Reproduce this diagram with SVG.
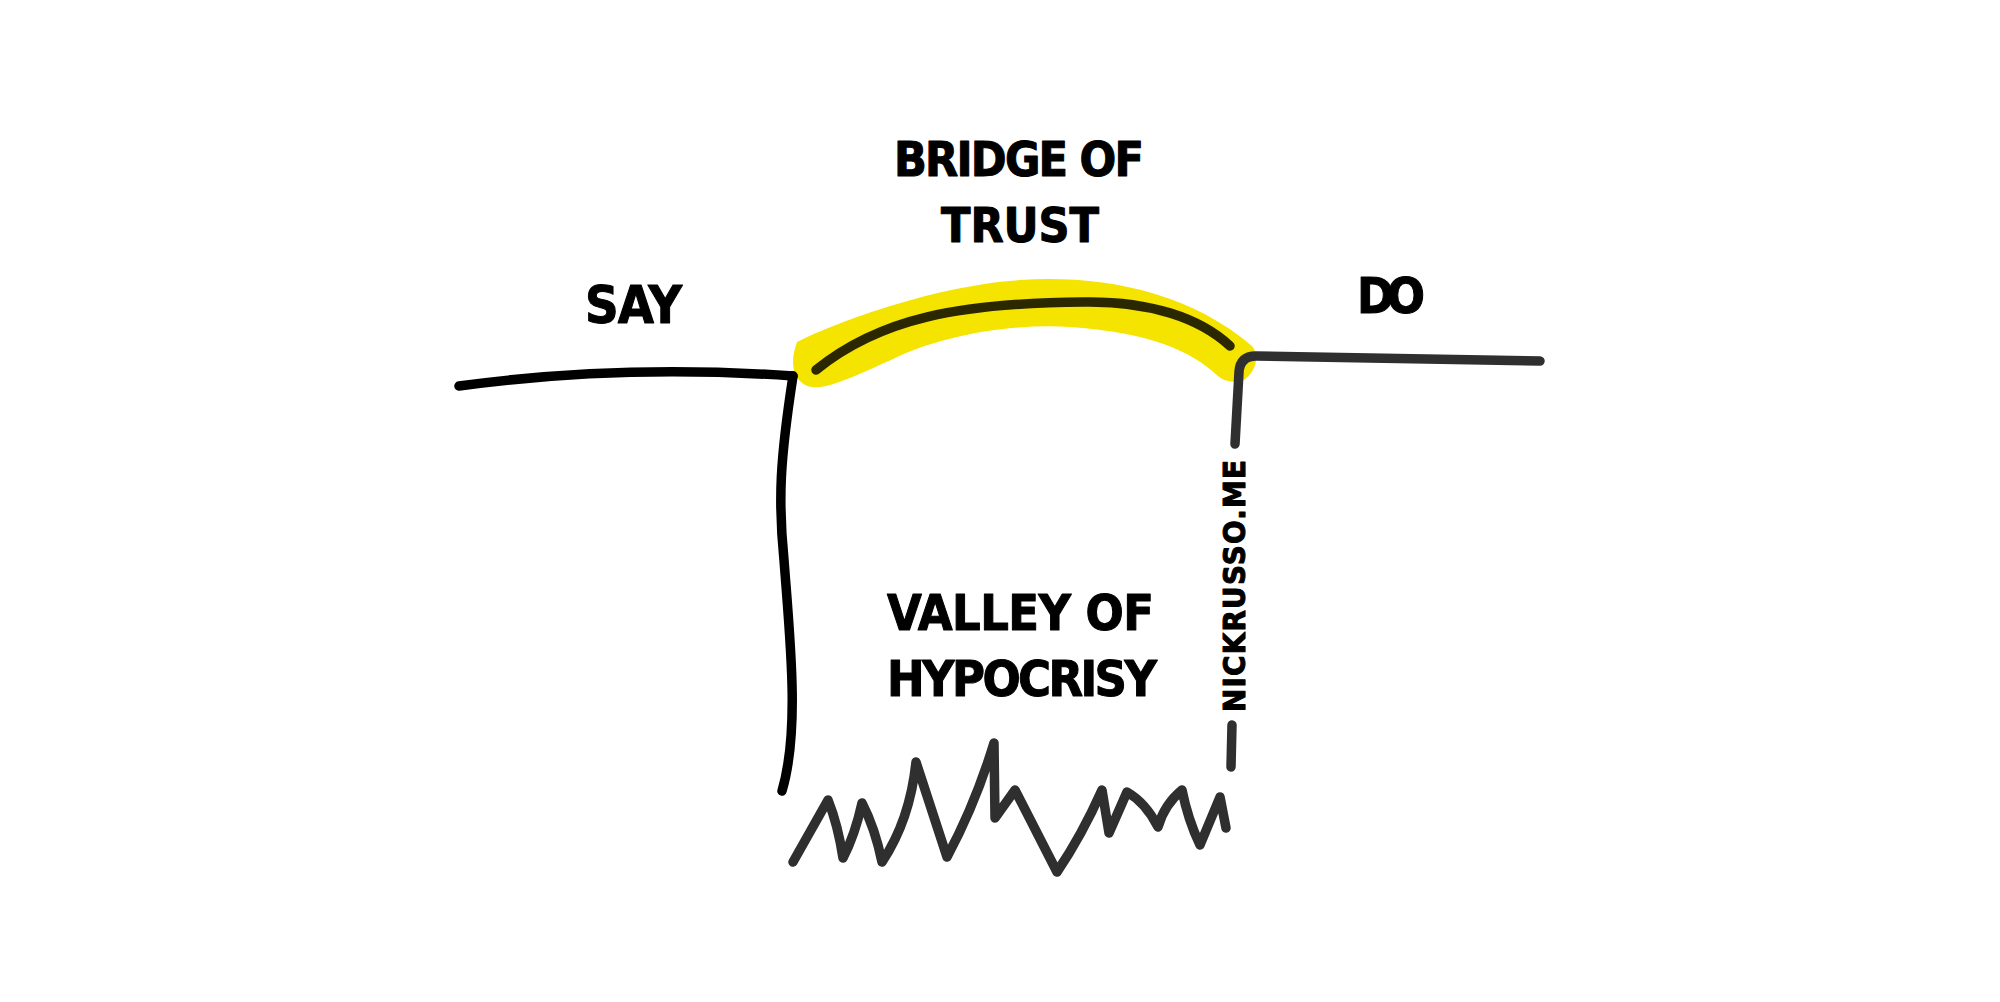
<svg xmlns="http://www.w3.org/2000/svg" width="2000" height="1002" viewBox="0 0 2000 1002">
<style>
.ln{fill:none;stroke-linecap:round;stroke-linejoin:round;stroke-width:9.5}
.blk{stroke:#000}
.gry{stroke:#2f2f2f}
.lbl{font-family:"DejaVu Sans Condensed","DejaVu Sans",sans-serif;font-weight:bold;fill:#000;stroke:#000;stroke-width:1;stroke-linejoin:round}
</style>
<rect width="2000" height="1002" fill="#fff"/>
<g id="bridge-highlight">
<path d="M797,342 C830,325 930,286 1020,280 C1100,275 1186,290 1252,346 C1260,355 1256,372 1244,380 C1232,384 1222,380 1218,376 C1190,350 1150,333 1071,327 C1010,323 940,336 893,359 C860,374 830,388 816,387 C800,388 786,372 797,342 Z" fill="#f5e400"/>
</g>
<g id="connectors">
<path class="ln blk" d="M459,386 Q620,364 793,376"/>
<path class="ln blk" d="M793,376 C780,460 778,500 784,560 C790,640 800,730 782,791"/>
<path class="ln" stroke="#2b2800" stroke-width="10" d="M816,370 C880,318 960,303 1084,302 C1150,301 1200,318 1230,346"/>
<path class="ln gry" d="M1235,444 L1239,372 Q1240,356 1256,356 L1540,361"/>
<path class="ln gry" d="M1232,725 L1231,767"/>
<path class="ln gry" d="M793,862 L828,800 Q838,825 843,858 Q855,835 862,803 Q875,828 882,862 Q910,820 916,762 L947,857 Q975,805 994,743 L995,818 L1015,790 L1057,872 Q1082,835 1102,790 L1109,833 L1127,792 Q1146,803 1158,827 Q1164,805 1182,790 Q1188,820 1200,845 L1220,797 L1226,828"/>
</g>
<g id="say"><text class="lbl" x="585" y="323" font-size="52" textLength="97" lengthAdjust="spacing">SAY</text></g>
<g id="do"><text class="lbl" x="1357" y="313" font-size="50" textLength="68" lengthAdjust="spacing">DO</text></g>
<g id="bridge-of-trust">
<text class="lbl" x="894" y="176" font-size="48" textLength="250" lengthAdjust="spacing">BRIDGE OF</text>
<text class="lbl" x="941" y="242" font-size="48" textLength="158" lengthAdjust="spacing">TRUST</text>
</g>
<g id="valley-of-hypocrisy">
<text class="lbl" x="887" y="630" font-size="50" textLength="267" lengthAdjust="spacing">VALLEY OF</text>
<text class="lbl" x="887" y="696" font-size="50" textLength="270" lengthAdjust="spacing">HYPOCRISY</text>
</g>
<g id="credit"><text class="lbl" transform="translate(1245,712) rotate(-90)" font-size="31" textLength="252" lengthAdjust="spacing">NICKRUSSO.ME</text></g>
</svg>
